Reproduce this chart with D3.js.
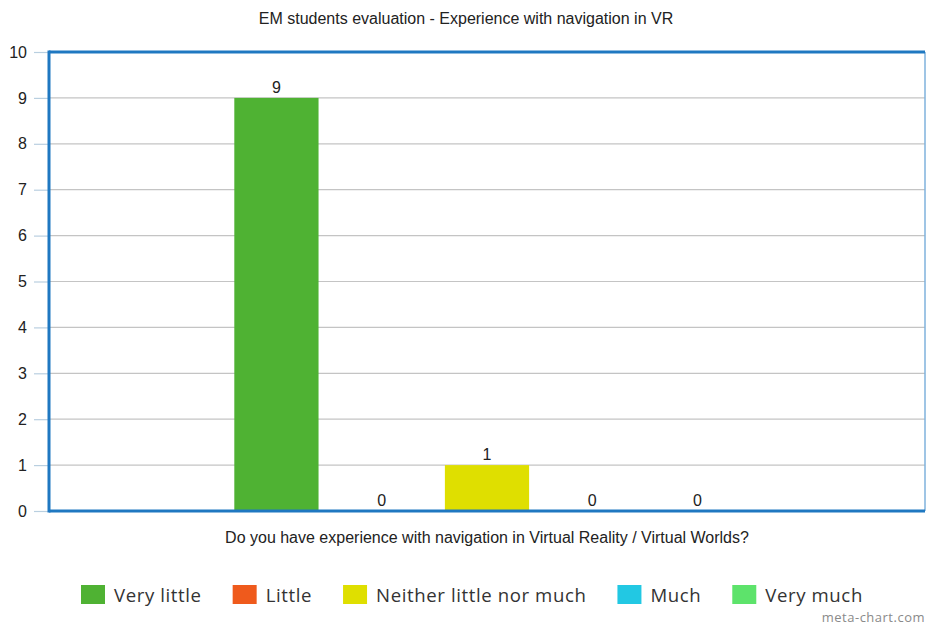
<!DOCTYPE html>
<html>
<head>
<meta charset="utf-8">
<script src="https://cdn.jsdelivr.net/npm/d3@7"></script>
<style>
  html, body { margin: 0; padding: 0; background: #fff; }
  svg { display: block; }
</style>
</head>
<body>
<svg id="chart" width="926" height="625"></svg>
<script>
// Survey answers for one question, one bar per answer option
const question = "Do you have experience with navigation in Virtual Reality / Virtual Worlds?";
const seriesNames = ["Very little", "Little", "Neither little nor much", "Much", "Very much"];
const seriesValues = [9, 0, 1, 0, 0];
const seriesColors = ["#4fb233", "#ef5a1c", "#dfdf00", "#22c8e3", "#5de36b"];
const yTicks = [0, 1, 2, 3, 4, 5, 6, 7, 8, 9, 10];

const svg = d3.select("#chart");
const W = 926, H = 625;
const margin = { top: 52, right: 1, bottom: 114, left: 49 };
const plotW = W - margin.left - margin.right;
const plotH = H - margin.top - margin.bottom;
const baseFont = "Liberation Sans, Arial, sans-serif";

const g = svg.append("g").attr("transform", `translate(${margin.left},${margin.top})`);

const y = d3.scaleLinear().domain([0, 10]).range([plotH, 0]);

// outer band for the single question, inner band for the answer options
const x0 = d3.scaleBand().domain([question]).range([0, plotW]).paddingInner(0).paddingOuter(0.3);
const x1 = d3.scaleBand().domain(seriesNames).range([0, x0.bandwidth()]).padding(0.2);

// horizontal grid lines
g.append("g")
  .selectAll("line")
  .data(yTicks)
  .join("line")
  .attr("x1", 0).attr("x2", plotW)
  .attr("y1", d => y(d)).attr("y2", d => y(d))
  .attr("stroke", "#c4c4c4")
  .attr("stroke-width", 1.2);

// y axis labels and ticks
const yAxis = d3.axisLeft(y).tickValues(yTicks).tickSize(15).tickPadding(7).tickFormat(d3.format("d"));
const ya = g.append("g").call(yAxis);
ya.select(".domain").remove();
ya.selectAll(".tick line").attr("stroke", "#b9cfe0").attr("stroke-width", 1.2);
ya.selectAll(".tick text")
  .attr("fill", "#222")
  .style("font-family", baseFont)
  .style("font-size", "16px");

// bars
const grp = g.append("g").attr("transform", `translate(${x0(question)},0)`);
grp.selectAll("rect")
  .data(seriesNames)
  .join("rect")
  .attr("x", d => x1(d))
  .attr("width", x1.bandwidth())
  .attr("y", (d, i) => y(seriesValues[i]))
  .attr("height", (d, i) => plotH - y(seriesValues[i]))
  .attr("fill", (d, i) => seriesColors[i]);

// value labels
grp.selectAll("text.val")
  .data(seriesNames)
  .join("text")
  .attr("class", "val")
  .attr("x", d => x1(d) + x1.bandwidth() / 2)
  .attr("y", (d, i) => y(seriesValues[i]) - 5)
  .attr("text-anchor", "middle")
  .attr("fill", "#222")
  .style("font-family", baseFont)
  .style("font-size", "16px")
  .text((d, i) => seriesValues[i]);

// frame: thin right edge, thick top / left / bottom
g.append("line").attr("x1", plotW).attr("x2", plotW).attr("y1", 0).attr("y2", plotH)
  .attr("stroke", "#7fb2dc").attr("stroke-width", 1.5);
g.append("line").attr("x1", 0).attr("x2", plotW).attr("y1", 0).attr("y2", 0)
  .attr("stroke", "#1f78c1").attr("stroke-width", 3);
g.append("line").attr("x1", 0).attr("x2", plotW).attr("y1", plotH).attr("y2", plotH)
  .attr("stroke", "#1f78c1").attr("stroke-width", 3);
g.append("line").attr("x1", 0).attr("x2", 0).attr("y1", -1.5).attr("y2", plotH + 1.5)
  .attr("stroke", "#1f78c1").attr("stroke-width", 3);

// title
svg.append("text")
  .attr("x", 466).attr("y", 24)
  .attr("text-anchor", "middle")
  .attr("fill", "#222")
  .style("font-family", baseFont)
  .style("font-size", "16px")
  .text("EM students evaluation - Experience with navigation in VR");

// x axis title
svg.append("text")
  .attr("x", 487).attr("y", 543)
  .attr("text-anchor", "middle")
  .attr("fill", "#222")
  .style("font-family", baseFont)
  .style("font-size", "16px")
  .text(question);

// legend
const legendFont = "Open Sans, DejaVu Sans, sans-serif";
const legend = svg.append("g");
let lx = 81;
seriesNames.forEach((name, i) => {
  const item = legend.append("g").attr("transform", `translate(${lx},585)`);
  item.append("rect").attr("width", 24).attr("height", 19).attr("fill", seriesColors[i]);
  const t = item.append("text")
    .attr("x", 33).attr("y", 17)
    .attr("fill", "#333")
    .style("font-family", legendFont)
    .style("font-size", "18.6px")
    .style("letter-spacing", "0.6px")
    .text(name);
  lx += 33 + t.node().getComputedTextLength() + 31;
});

// watermark
svg.append("text")
  .attr("x", 925).attr("y", 622)
  .attr("text-anchor", "end")
  .attr("fill", "#8a8a8a")
  .style("font-family", legendFont)
  .style("font-size", "13px")
  .style("letter-spacing", "0.5px")
  .text("meta-chart.com");
</script>
</body>
</html>
